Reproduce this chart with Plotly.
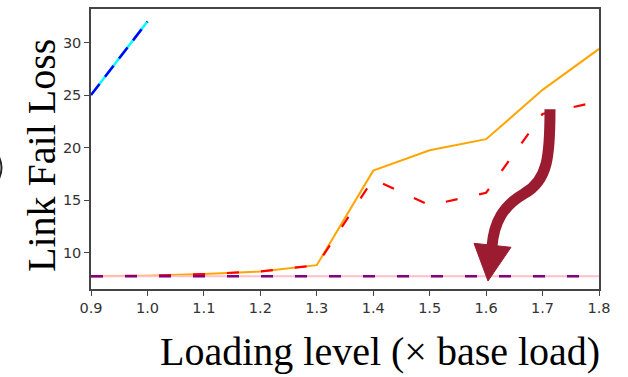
import plotly.graph_objects as go

# ---- data ----
load_levels = [0.9, 1.0, 1.1, 1.2, 1.3, 1.4, 1.5, 1.6, 1.7, 1.8]
orange_loss = [7.75, 7.8, 7.95, 8.2, 8.8, 17.8, 19.75, 20.8, 25.5, 29.4]
red_loss = [7.75, 7.8, 7.95, 8.2, 8.8, 17.0, 14.5, 15.7, 23.2, 24.4]
blue_levels = [0.9, 1.0]
blue_loss = [25.0, 32.0]
pink_loss = [7.75] * len(load_levels)
purple_loss = [7.75] * len(load_levels)
x_ticks = [0.9, 1.0, 1.1, 1.2, 1.3, 1.4, 1.5, 1.6, 1.7, 1.8]
y_ticks = [10, 15, 20, 25, 30]

W, H = 628, 377
L, R, T, B = 91, 29, 7, 88
PW, PH = W - L - R, H - T - B

def px(x, y):
    return (x - L) / PW, (H - B - y) / PH

fig = go.Figure()
fig.add_trace(go.Scatter(x=blue_levels, y=blue_loss, mode="lines",
                         line=dict(color="#00FFFF", width=2.5), showlegend=False))
fig.add_trace(go.Scatter(x=blue_levels, y=blue_loss, mode="lines",
                         line=dict(color="#0000FF", width=2.5, dash="14px,9px"), showlegend=False))
fig.add_trace(go.Scatter(x=load_levels, y=orange_loss, mode="lines",
                         line=dict(color="#FFA500", width=2), showlegend=False))
fig.add_trace(go.Scatter(x=load_levels, y=red_loss, mode="lines",
                         line=dict(color="#FF0000", width=2.2, dash="12px,22px"), showlegend=False))
fig.add_trace(go.Scatter(x=load_levels, y=pink_loss, mode="lines",
                         line=dict(color="#FFC0CB", width=2), showlegend=False))
fig.add_trace(go.Scatter(x=load_levels, y=purple_loss, mode="lines",
                         line=dict(color="#800080", width=2.5, dash="12px,22px"), showlegend=False))

axis_common = dict(showline=True, linecolor="#444", linewidth=1.5, mirror=True,
                   ticks="outside", ticklen=5, tickcolor="#444", tickwidth=1.2,
                   showgrid=False, zeroline=False,
                   tickfont=dict(family="DejaVu Sans", size=14.5, color="#333"))
fig.update_xaxes(range=[0.9, 1.8], tickvals=x_ticks,
                 ticktext=[f"{v:.1f}" for v in x_ticks], **axis_common)
fig.update_yaxes(range=[6.53, 33.2], tickvals=y_ticks, **axis_common)

def pth(points_cmds):
    out = []
    for cmd, pts in points_cmds:
        coords = []
        for (x, y) in pts:
            a, b = px(x, y)
            coords.append(f"{a:.5f},{b:.5f}")
        out.append(cmd + " " + " ".join(coords))
    return " ".join(out)

shaft = pth([("M", [(550, 108)]),
             ("C", [(550, 155), (548, 180), (524, 193)]),
             ("C", [(503, 205), (494, 222), (492, 246)])])
head = pth([("M", [(474, 243)]), ("L", [(511, 247)]), ("L", [(488, 281)])]) + " Z"

fig.add_shape(type="path", xref="paper", yref="paper", path=shaft,
              line=dict(color="#9B1C31", width=11))
fig.add_shape(type="path", xref="paper", yref="paper", path=head,
              line=dict(color="#9B1C31", width=1), fillcolor="#9B1C31")

# sliver of a neighbouring glyph at the left page edge
sliver = pth([("M", [(-2, 154)]), ("Q", [(5, 167), (-2, 180)])])
fig.add_shape(type="path", xref="paper", yref="paper", path=sliver,
              line=dict(color="#222", width=2))

ax, ay = px(42, 155)
fig.add_annotation(text="Link Fail Loss", xref="paper", yref="paper", x=ax, y=ay,
                   showarrow=False, textangle=-90, xanchor="center", yanchor="middle",
                   font=dict(family="Liberation Serif", size=40, color="black"))
bx, by = px(380, 352)
fig.add_annotation(text="Loading level (× base load)", xref="paper", yref="paper", x=bx, y=by,
                   showarrow=False, xanchor="center", yanchor="middle",
                   font=dict(family="Liberation Serif", size=40, color="black"))

fig.update_layout(width=W, height=H, margin=dict(l=L, r=R, t=T, b=B),
                  paper_bgcolor="white", plot_bgcolor="white")
fig.write_html("out.html", config={"displayModeBar": False},
               post_script="document.body.style.margin='0';document.body.style.padding='0';")
